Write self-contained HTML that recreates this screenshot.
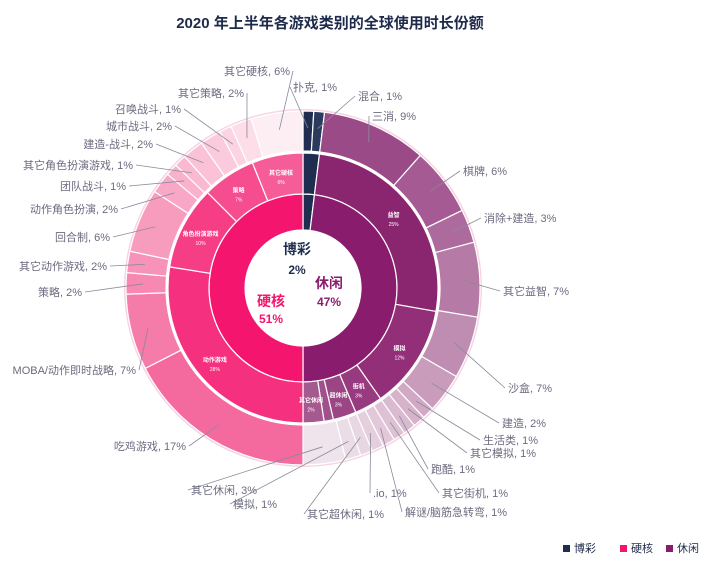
<!DOCTYPE html>
<html><head><meta charset="utf-8"><style>
body{margin:0;background:#fff;}
svg{display:block;font-family:"Liberation Sans","Noto Sans CJK SC",sans-serif;}
</style></head><body>
<svg id="s" width="713" height="567" viewBox="0 0 713 567">
<text x="330" y="28" text-anchor="middle" font-size="15" font-weight="bold" fill="#1e2a4a">2020 年上半年各游戏类别的全球使用时长份额</text>
<g id="g"></g>
<g font-size="11" fill="#1e2a4a">
<rect x="563" y="545" width="7" height="7" fill="#1f2d50"/><text x="574" y="552">博彩</text>
<rect x="620" y="545" width="7" height="7" fill="#f4156e"/><text x="631" y="552">硬核</text>
<rect x="666" y="545" width="7" height="7" fill="#8a1c6e"/><text x="677" y="552">休闲</text>
</g>
</svg>
<script>
var cx=303,cy=288,NS="http://www.w3.org/2000/svg",g=document.getElementById('g');
function pt(r,a){a=a*Math.PI/180;return [cx+r*Math.sin(a),cy-r*Math.cos(a)];}
function arc(r0,r1,a0,a1,fill){var p=document.createElementNS(NS,'path');var L=(a1-a0)>180?1:0;
var A=pt(r1,a0),B=pt(r1,a1),C=pt(r0,a1),D=pt(r0,a0);
p.setAttribute('d','M'+A+' A'+r1+' '+r1+' 0 '+L+' 1 '+B+' L'+C+' A'+r0+' '+r0+' 0 '+L+' 0 '+D+'Z');
p.setAttribute('fill',fill);p.setAttribute('stroke','#fff');p.setAttribute('stroke-width','1.2');g.appendChild(p);}
function txt(x,y,s,o){var t=document.createElementNS(NS,'text');t.setAttribute('x',x);t.setAttribute('y',y);for(var k in o)t.setAttribute(k,o[k]);t.textContent=s;g.appendChild(t);}
function line(x1,y1,x2,y2){var l=document.createElementNS(NS,'line');l.setAttribute('x1',x1);l.setAttribute('y1',y1);l.setAttribute('x2',x2);l.setAttribute('y2',y2);l.setAttribute('stroke','#8a8a9a');l.setAttribute('stroke-width','0.8');g.appendChild(l);}
var c=document.createElementNS(NS,'circle');c.setAttribute('cx',cx);c.setAttribute('cy',cy);c.setAttribute('r',178);c.setAttribute('fill','none');c.setAttribute('stroke','#f6d3e3');c.setAttribute('stroke-width','2');g.appendChild(c);
arc(58,94,0,7,'#1f2d50');arc(58,94,7,180,'#8a1c6e');arc(58,94,180,360,'#f4156e');
var mid=[[0,7,'#1f2d50'],[7,100,'#8a2570'],[100,145,'#922f78'],[145,157,'#983a7f'],[157,167,'#9c4584'],[167,171,'#a0508a'],[171,180,'#a55a8f'],
[180,279,'#f5307e'],[279,315,'#f53e86'],[315,338,'#f54d8f'],[338,360,'#f65c98']];
mid.forEach(function(m){arc(94,135,m[0],m[1],m[2]);});
var O=[[0,3.5,'#1f2d50','扑克, 1%',293,91,'start'],[3.5,7,'#2c3a5e','混合, 1%',358,100,'start'],
[7,41.5,'#9b4a88','三消, 9%',372,120,'start'],[41.5,64,'#a55a93','棋牌, 6%',463,175,'start'],[64,75,'#ad6a9c','消除+建造, 3%',484,222,'start'],
[75,99.5,'#b57aa5','其它益智, 7%',503,295,'start'],[99.5,120,'#c08db2','沙盒, 7%',508,392,'start'],[120,133,'#c99cbc','建造, 2%',502,427,'start'],
[133,137,'#d1a9c5','生活类, 1%',483,444,'start'],[137,141,'#d6b2cb','其它模拟, 1%',470,457,'start'],[141,145,'#dabad0','跑酷, 1%',431,473,'start'],
[145,149,'#dec1d5','其它街机, 1%',442,497,'start'],[149,153,'#e2c8d9','解谜/脑筋急转弯, 1%',405,516,'start'],[153,157,'#e5cfdd','.io, 1%',373,497,'start'],
[157,161,'#e8d6e2','其它超休闲, 1%',307,518,'start'],[161,166,'#ebdde7','模拟, 1%',233,508,'start'],[166,180,'#efe3ec','其它休闲, 3%',191,494,'start'],
[180,243,'#f46a9e','吃鸡游戏, 17%',186,450,'end'],[243,268,'#f57ba9','MOBA/动作即时战略, 7%',136,374,'end'],[268,275,'#f688b1','策略, 2%',82,296,'end'],
[275,282,'#f792b8','其它动作游戏, 2%',107,270,'end'],[282,303,'#f89cbe','回合制, 6%',110,241,'end'],[303,310,'#f9a7c6','动作角色扮演, 2%',118,213,'end'],
[310,314,'#f9b1cc','团队战斗, 1%',126,190,'end'],[314,318,'#fab9d1','其它角色扮演游戏, 1%',133,169,'end'],[318,325,'#fbc2d7','建造-战斗, 2%',153,148,'end'],
[325,332,'#fbcbdd','城市战斗, 2%',172,130,'end'],[332,336,'#fcd3e2','召唤战斗, 1%',181,113,'end'],[336,343,'#fcdde8','其它策略, 2%',244,97,'end'],
[343,360,'#fdeef3','其它硬核, 6%',290,75,'end']];
O.forEach(function(o){arc(137,177,o[0],o[1],o[2]);});
O.forEach(function(o){var m=(o[0]+o[1])/2,p=pt(160,m);var lx=o[6]=='start'?o[4]-3:o[4]+3;line(lx,o[5]-4,p[0],p[1]);
txt(o[4],o[5],o[3],{'font-size':'11','fill':'#6b6b80','text-anchor':o[6]});});
var ml=[[52,'益智','25%'],[123,'模拟','12%'],[151,'街机','3%'],[162,'超休闲','3%'],[176,'其它休闲','2%'],[230,'动作游戏','28%'],[297,'角色扮演游戏','10%'],[326,'策略','7%'],[349,'其它硬核','6%']];
ml.forEach(function(m){var p=pt(115,m[0]);txt(p[0],p[1],m[1],{'font-size':'6','font-weight':'bold','fill':'#fff','text-anchor':'middle'});txt(p[0],p[1]+9,m[2],{'font-size':'5','fill':'#fff','text-anchor':'middle'});});
txt(297,254,'博彩',{'font-size':'14','font-weight':'bold','fill':'#1f2d50','text-anchor':'middle'});
txt(297,274,'2%',{'font-size':'12','font-weight':'bold','fill':'#1f2d50','text-anchor':'middle'});
txt(329,288,'休闲',{'font-size':'14','font-weight':'bold','fill':'#8a1c6e','text-anchor':'middle'});
txt(329,306,'47%',{'font-size':'12','font-weight':'bold','fill':'#8a1c6e','text-anchor':'middle'});
txt(271,306,'硬核',{'font-size':'14','font-weight':'bold','fill':'#f4156e','text-anchor':'middle'});
txt(271,323,'51%',{'font-size':'12','font-weight':'bold','fill':'#f4156e','text-anchor':'middle'});
</script>
</body></html>
